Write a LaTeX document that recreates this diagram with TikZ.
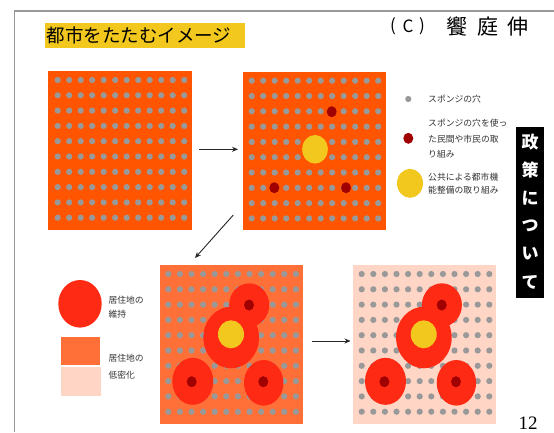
\documentclass[tikz,border=0pt]{standalone}
\usepackage{fontspec}
\setmainfont{Liberation Serif}
\newfontfamily\jp{Noto Sans CJK JP}
\usetikzlibrary{arrows.meta}
\definecolor{orangeA}{HTML}{FF5500}
\definecolor{orangeB}{HTML}{FF7038}
\definecolor{peach}{HTML}{FFD5C5}
\definecolor{blobred}{HTML}{FF2A14}
\definecolor{darkred}{HTML}{A00000}
\definecolor{yel}{HTML}{F2C81E}
\definecolor{dotgray}{HTML}{999999}
\definecolor{framegray}{HTML}{999999}
\definecolor{txtgray}{HTML}{333333}
\newcommand\mydotgrid[3]{%
  \foreach \i in {0,...,11}{\foreach \j in {0,...,9}{%
    \fill[dotgray] (#1+\i*#3,#2+\j*15.3) circle (3.1);}}}
\newcommand\myblobs{%
  \fill[blobred] (71.2,72.5) ellipse (27.8 and 30.8);
  \fill[blobred] (89.2,40) ellipse (20 and 21.7);
  \fill[blobred] (32.8,116.3) ellipse (20.5 and 23.5);
  \fill[blobred] (103.7,117.8) ellipse (19.7 and 22.8);
  \fill[yel] (71,69.3) ellipse (13 and 14);
  \fill[darkred] (89,40) ellipse (5 and 5.5);
  \fill[darkred] (31.7,116.7) ellipse (5 and 5.5);
  \fill[darkred] (103.3,116.7) ellipse (5 and 5.5);}
\begin{document}
\begin{tikzpicture}[x=1pt,y=-1pt,
  panel/.style={rectangle,inner sep=0pt,outer sep=0pt,anchor=north west},
  arr/.style={draw=black!85,line width=0.9pt,-{Stealth[length=6pt,width=5pt]}},
  leg/.style={anchor=west,inner sep=0pt,font=\jp\fontsize{8.8}{10}\selectfont,text=txtgray},
  hdr/.style={inner sep=0pt,font=\jp\fontsize{21}{22}\selectfont},
  vchar/.style={inner sep=0pt,text=white,font=\jp\bfseries\fontsize{17}{17}\selectfont}]
\useasboundingbox (0,0) rectangle (554,432);
\fill[white] (0,0) rectangle (554,432);
\draw[framegray,line width=1.6pt] (14.3,432) -- (14.3,11) -- (554,11);
% title
\node[panel,fill=yel,minimum width=200,minimum height=25.6] (tbox) at (45,22.7) {};
\node[anchor=west,inner sep=0pt,font=\jp\fontsize{18.5}{20}\selectfont] (title) at (46.5,35.5) {都市をたたむイメージ};
\node[inner sep=0pt,font=\jp\fontsize{17}{20}\selectfont] (cp1) at (393,26.5) {(};
\node[inner sep=0pt,font=\jp\fontsize{17}{20}\selectfont] (cp2) at (408,26.5) {C};
\node[inner sep=0pt,font=\jp\fontsize{17}{20}\selectfont] (cp3) at (422,26.5) {)};
\node[hdr] (au1) at (456.5,27) {饗};
\node[hdr] (au2) at (487.5,27) {庭};
\node[hdr] (au3) at (517.5,27) {伸};
% panel 1
\node[panel,fill=orangeA,minimum width=144,minimum height=159] (p1) at (48,71) {};
\mydotgrid{57.7}{80}{11.5}
% panel 2
\node[panel,fill=orangeA,minimum width=143,minimum height=158.5] (p2) at (242.7,71.5) {};
\mydotgrid{251.7}{80.7}{11.5}
\fill[darkred] (331.7,111.7) ellipse (5 and 5.5);
\fill[darkred] (274.3,187.7) ellipse (5 and 5.5);
\fill[darkred] (346,187.7) ellipse (5 and 5.5);
\fill[yel] (315,149.3) ellipse (12.8 and 14.3);
% panel 3
\node[panel,fill=orangeB,minimum width=142.7,minimum height=159.3] (p3) at (160,265) {};
\mydotgrid{168.3}{274}{11.6}
\begin{scope}[shift={(160,265)}]\myblobs\end{scope}
% panel 4
\node[panel,fill=peach,minimum width=143.3,minimum height=159.3] (p4) at (352.7,265) {};
\mydotgrid{361.7}{274}{11.6}
\begin{scope}[shift={(352.7,265)}]\myblobs\end{scope}
% arrows
\coordinate (a1s) at (199,149.3); \coordinate (a1e) at (238,149.3);
\coordinate (a2s) at (233.3,215); \coordinate (a2e) at (195,258);
\coordinate (a3s) at (311.7,341); \coordinate (a3e) at (350.5,341);
\draw[arr] (a1s) -- (a1e);
\draw[arr] (a2s) -- (a2e);
\draw[arr] (a3s) -- (a3e);
% right legend
\fill[dotgray] (408.3,99) circle (3.1);
\node[leg] (l1) at (428,99) {スポンジの穴};
\fill[darkred] (408.3,138.3) ellipse (5 and 5.5);
\node[leg] (l2a) at (428,123.3) {スポンジの穴を使っ};
\node[leg] (l2b) at (428,139) {た民間や市民の取};
\node[leg] (l2c) at (428,154) {り組み};
\fill[yel] (410,183.3) ellipse (13 and 14.5);
\node[leg] (l3a) at (428,176.7) {公共による都市機};
\node[leg] (l3b) at (428,190) {能整備の取り組み};
% left legend
\fill[blobred] (80,303.8) ellipse (21.7 and 23.8);
\node[leg] (l4a) at (108.3,300) {居住地の};
\node[leg] (l4b) at (108.3,314.5) {維持};
\node[panel,fill=orangeB,minimum width=39.5,minimum height=27.7] (lr1) at (60.7,337.3) {};
\node[panel,fill=peach,minimum width=40.3,minimum height=29] (lr2) at (60.7,366.7) {};
\node[leg] (l5a) at (108.3,358.3) {居住地の};
\node[leg] (l5b) at (108.3,375.5) {低密化};
% vertical black box
\node[panel,fill=black,minimum width=28,minimum height=171] (vb) at (516,127.3) {};
\node[vchar] (v1) at (530,142) {政};
\node[vchar] (v2) at (530,170) {策};
\node[vchar] (v3) at (530,198) {に};
\node[vchar] (v4) at (530,226) {つ};
\node[vchar] (v5) at (530,254) {い};
\node[vchar] (v6) at (530,282) {て};
% page number
\node[inner sep=0pt,font=\fontsize{19}{20}\selectfont] (pg) at (528,423) {12};
\end{tikzpicture}
\end{document}
